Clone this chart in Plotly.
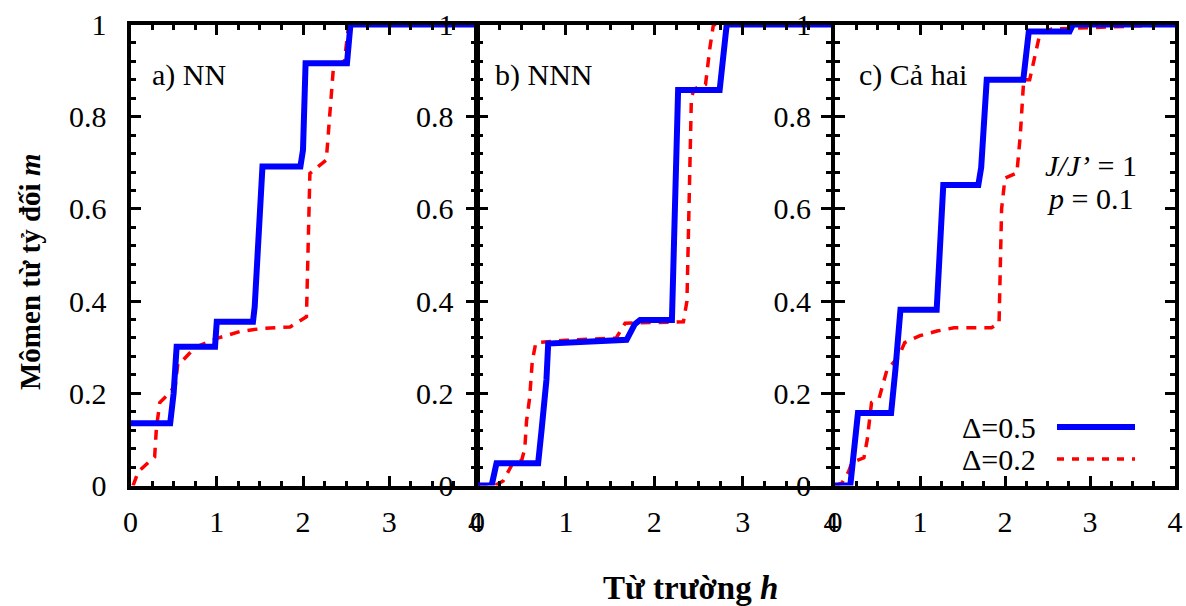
import plotly.graph_objects as go

# ---------------- data ----------------
# panel a) NN
H_A_05 = [0.0, 0.46, 0.50, 0.535, 0.98, 1.0, 1.42, 1.44, 1.53, 1.97, 2.0, 2.03, 2.51, 2.55, 4.0]
M_A_05 = [0.135, 0.135, 0.20, 0.301, 0.301, 0.355, 0.355, 0.388, 0.692, 0.692, 0.728, 0.916, 0.916, 1.0, 1.0]
H_A_02 = [0.03, 0.09, 0.28, 0.30, 0.34, 0.45, 0.52, 0.55, 0.60, 0.75, 1.0, 1.27, 1.54, 1.85, 2.04, 2.08,
          2.27, 2.35, 2.40, 2.48, 2.53, 4.0]
M_A_02 = [0.0, 0.03, 0.062, 0.124, 0.18, 0.20, 0.218, 0.266, 0.27, 0.30, 0.319, 0.334, 0.341, 0.344, 0.366,
          0.677, 0.706, 0.90, 0.915, 0.92, 1.0, 1.0]

# panel b) NNN
H_B_05 = [0.0, 0.16, 0.215, 0.686, 0.725, 0.78, 0.80, 1.2, 1.687, 1.78, 1.84, 2.20, 2.27, 2.74, 2.82, 4.0]
M_B_05 = [0.0, 0.0, 0.048, 0.048, 0.12, 0.229, 0.308, 0.312, 0.316, 0.35, 0.359, 0.359, 0.858, 0.858, 1.0, 1.0]
H_B_02 = [0.0, 0.2, 0.29, 0.39, 0.50, 0.535, 0.555, 0.59, 0.62, 0.66, 1.0, 1.57, 1.67, 2.33, 2.37, 2.42,
          2.45, 2.58, 2.63, 2.67, 4.0]
M_B_02 = [0.0, 0.0, 0.01, 0.045, 0.055, 0.08, 0.14, 0.19, 0.27, 0.31, 0.315, 0.32, 0.352, 0.355, 0.40, 0.84,
          0.86, 0.87, 0.95, 1.0, 1.0]

# panel c) Ca hai
H_C_05 = [0.0, 0.18, 0.27, 0.66, 0.71, 0.77, 1.196, 1.274, 1.686, 1.72, 1.785, 2.215, 2.28, 2.76, 2.80, 4.0]
M_C_05 = [0.0, 0.0, 0.157, 0.157, 0.25, 0.381, 0.381, 0.652, 0.652, 0.69, 0.88, 0.88, 0.985, 0.985, 1.0, 1.0]
H_C_02 = [0.0, 0.08, 0.16, 0.20, 0.34, 0.38, 0.43, 0.52, 0.61, 0.65, 0.75, 0.82, 1.0, 1.2, 1.4, 1.84, 1.93,
          1.96, 2.0, 2.14, 2.18, 2.22, 2.29, 2.41, 2.55, 4.0]
M_C_02 = [0.0, 0.005, 0.03, 0.05, 0.06, 0.10, 0.18, 0.19, 0.25, 0.258, 0.28, 0.31, 0.325, 0.335, 0.342, 0.342,
          0.352, 0.60, 0.667, 0.678, 0.76, 0.88, 0.88, 0.98, 0.99, 1.0]

PANEL_LABELS = ["a) NN", "b) NNN", "c) Cả hai"]
SERIES_LABELS = ["Δ=0.5", "Δ=0.2"]
X_TICKS = [0, 1, 2, 3, 4]
Y_TICKS = [0, 0.2, 0.4, 0.6, 0.8, 1]
Y_TICK_TEXT = ["0", "0.2", "0.4", "0.6", "0.8", "1"]
X_TITLE = "<b>Từ trường <i>h</i></b>"
Y_TITLE = "<b>Mômen từ tỷ đối <i>m</i></b>"

# ---------------- layout helpers ----------------
W, H = 1186, 606
FONT = "Liberation Serif"
BLUE = "#0000ff"
RED = "#ff0000"


def px(x):
    return x / W


def py(y):
    return 1 - y / H


x_domains = [(130.5, 475.5), (477.5, 831.0), (835.0, 1175.0)]
y_dom = [py(485.5), py(24.5)]

fig = go.Figure()

panels = [(H_A_05, M_A_05, H_A_02, M_A_02),
          (H_B_05, M_B_05, H_B_02, M_B_02),
          (H_C_05, M_C_05, H_C_02, M_C_02)]

for i, (h5, m5, h2, m2) in enumerate(panels):
    xa = "x" if i == 0 else f"x{i+1}"
    ya = "y" if i == 0 else f"y{i+1}"
    fig.add_trace(go.Scatter(x=h2, y=m2, mode="lines", xaxis=xa, yaxis=ya,
                             line=dict(color=RED, width=3.5, dash="10px,8px"),
                             showlegend=False, name=SERIES_LABELS[1]))
    fig.add_trace(go.Scatter(x=h5, y=m5, mode="lines", xaxis=xa, yaxis=ya,
                             line=dict(color=BLUE, width=6),
                             showlegend=False, name=SERIES_LABELS[0]))

axis_common = dict(
    showgrid=False, zeroline=False, showline=True, linecolor="black", linewidth=4,
    mirror="allticks", ticks="inside", ticklen=10, tickwidth=3, tickcolor="black",
    tickfont=dict(family=FONT, size=30, color="black"), automargin=False,
)

layout = dict(
    width=W, height=H, margin=dict(l=0, r=0, t=0, b=0, pad=0, autoexpand=False),
    paper_bgcolor="white", plot_bgcolor="white", showlegend=False,
    font=dict(family=FONT, color="black"),
)

for i, (x0, x1) in enumerate(x_domains):
    xk = "xaxis" if i == 0 else f"xaxis{i+1}"
    yk = "yaxis" if i == 0 else f"yaxis{i+1}"
    anchor_y = "y" if i == 0 else f"y{i+1}"
    anchor_x = "x" if i == 0 else f"x{i+1}"
    layout[xk] = dict(axis_common, domain=[px(x0), px(x1)], range=[0, 4], anchor=anchor_y,
                      tickvals=X_TICKS, ticktext=[str(t) for t in X_TICKS], ticklabelstandoff=6,
                      minor=dict(dtick=0.25, ticks="inside", ticklen=5, tickwidth=3, tickcolor="black",
                                 showgrid=False))
    layout[yk] = dict(axis_common, domain=y_dom, range=[0, 1], anchor=anchor_x,
                      tickvals=Y_TICKS, ticktext=Y_TICK_TEXT, ticklabelstandoff=14,
                      minor=dict(dtick=0.04, ticks="inside", ticklen=5, tickwidth=3, tickcolor="black",
                                 showgrid=False))

fig.update_layout(**layout)

annotations = []
label_pos = [(150, 75), (493, 75), (857, 75)]
for text, (x, y) in zip(PANEL_LABELS, label_pos):
    annotations.append(dict(text=text, x=px(x), y=py(y), xref="paper", yref="paper",
                            xanchor="left", yanchor="middle", showarrow=False,
                            font=dict(family=FONT, size=30, color="black")))

annotations.append(dict(text="<i>J/J’</i> = 1", x=px(1043), y=py(165), xref="paper", yref="paper",
                        xanchor="left", yanchor="middle", showarrow=False,
                        font=dict(family=FONT, size=30, color="black")))
annotations.append(dict(text="<i>p</i> = 0.1", x=px(1045), y=py(198), xref="paper", yref="paper",
                        xanchor="left", yanchor="middle", showarrow=False,
                        font=dict(family=FONT, size=30, color="black")))

# legend (text left, sample right)
leg_rows = [(SERIES_LABELS[0], 427, BLUE, 6, "solid"), (SERIES_LABELS[1], 459, RED, 3.5, "7px,8px")]
shapes = []
for text, y, col, w, dash in leg_rows:
    annotations.append(dict(text=text, x=px(1038), y=py(y), xref="paper", yref="paper",
                            xanchor="right", yanchor="middle", showarrow=False,
                            font=dict(family=FONT, size=30, color="black")))
    shapes.append(dict(type="line", xref="paper", yref="paper", x0=px(1057), x1=px(1135),
                       y0=py(y), y1=py(y), line=dict(color=col, width=w, dash=dash)))

annotations.append(dict(text=X_TITLE, x=px(690), y=py(588), xref="paper", yref="paper",
                        xanchor="center", yanchor="middle", showarrow=False,
                        font=dict(family=FONT, size=33, color="black")))
annotations.append(dict(text=Y_TITLE, x=px(30), y=py(272), xref="paper", yref="paper",
                        xanchor="center", yanchor="middle", showarrow=False, textangle=-90,
                        font=dict(family=FONT, size=29, color="black")))

fig.update_layout(annotations=annotations, shapes=shapes)

fig.write_html("out.html")
